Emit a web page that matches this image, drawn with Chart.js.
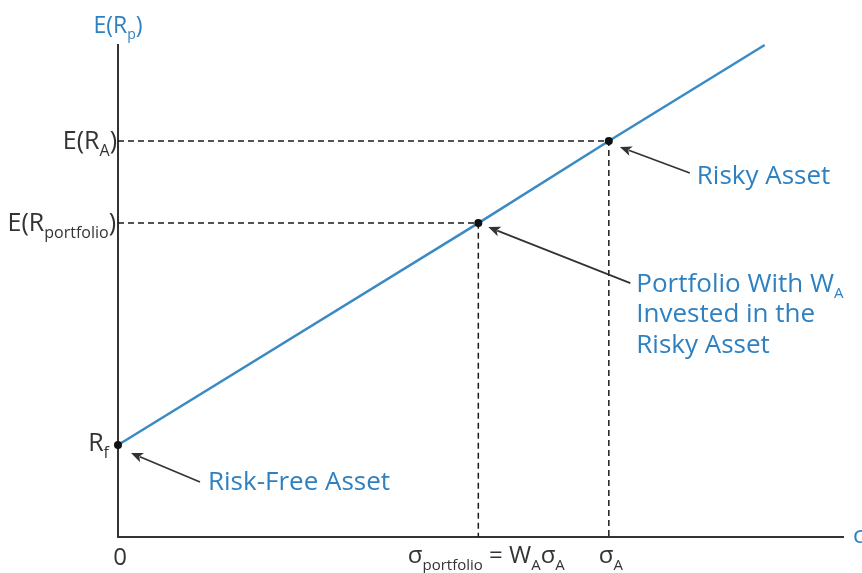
<!DOCTYPE html>
<html><head><meta charset="utf-8">
<script src="https://cdn.jsdelivr.net/npm/chart.js@4"></script>
<style>html,body{margin:0;padding:0;background:#fff}#wrap{width:862px;height:573px;position:relative}</style>
</head><body><div id="wrap"><canvas id="c" width="862" height="573"></canvas></div>
<script>
// ---- data ----
const riskFree = [0, 1.87];        // (sigma, E(R)) of the risk-free asset
const portfolio = [4.97, 6.38];    // portfolio with W_A in the risky asset
const risky = [6.77, 8.05];        // risky asset A
const lineEnd = [8.92, 10];        // end of the capital allocation line
const xRange = [0, 10];
const yRange = [0, 10];
const annotationTexts = {
  risky: ['Risky Asset'],
  portfolio: ['Portfolio With W', 'Invested in the', 'Risky Asset'],
  riskFree: ['Risk-Free Asset']
};

const BLUE_LINE = '#3a8ac4';
const BLUE_TEXT = '#2f80c0';
const DARK = '#333333';
const FONT = '"Open Sans", sans-serif';

function pt(a){ return {x:a[0], y:a[1]}; }

function drawRich(ctx, parts, x, y, align, color, size, subSize, subDrop){
  ctx.save();
  ctx.fillStyle = color;
  ctx.textBaseline = 'alphabetic';
  ctx.textAlign = 'left';
  let total = 0;
  parts.forEach(p => {
    ctx.font = (p.sub ? subSize : size) + 'px ' + FONT;
    p.w = ctx.measureText(p.t).width;
    total += p.w;
  });
  let cx = align === 'right' ? x - total : (align === 'center' ? x - total/2 : x);
  const drop = subDrop !== undefined ? subDrop : Math.round(size*0.28);
  parts.forEach(p => {
    ctx.font = (p.sub ? subSize : size) + 'px ' + FONT;
    ctx.fillText(p.t, cx, y + (p.sub ? drop : 0));
    cx += p.w;
  });
  ctx.restore();
}

function arrow(ctx, x1, y1, x2, y2){
  const ang = Math.atan2(y2 - y1, x2 - x1);
  const hl = 12, hw = 5;
  ctx.save();
  ctx.strokeStyle = DARK; ctx.fillStyle = DARK; ctx.lineWidth = 1.7;
  ctx.beginPath();
  ctx.moveTo(x1, y1);
  ctx.lineTo(x2 - Math.cos(ang)*hl*0.8, y2 - Math.sin(ang)*hl*0.8);
  ctx.stroke();
  ctx.beginPath();
  ctx.moveTo(x2, y2);
  ctx.lineTo(x2 - Math.cos(ang)*hl + Math.sin(ang)*hw, y2 - Math.sin(ang)*hl - Math.cos(ang)*hw);
  ctx.lineTo(x2 - Math.cos(ang)*hl*0.75, y2 - Math.sin(ang)*hl*0.75);
  ctx.lineTo(x2 - Math.cos(ang)*hl - Math.sin(ang)*hw, y2 - Math.sin(ang)*hl + Math.cos(ang)*hw);
  ctx.closePath();
  ctx.fill();
  ctx.restore();
}

const labelsPlugin = {
  id: 'labels',
  afterDraw(chart){
    const ctx = chart.ctx;
    const xs = chart.scales.x, ys = chart.scales.y;
    const X = v => xs.getPixelForValue(v), Y = v => ys.getPixelForValue(v);
    const axL = X(xRange[0]), axB = Y(yRange[0]), axT = Y(yRange[1]), axR = chart.chartArea.right;
    const ySize = 24, ySub = 15;
    const lSize = 25, lSub = 16;
    // y-axis title
    drawRich(ctx, [{t:'E(R'},{t:'p',sub:true},{t:')'}], axL, axT - 12, 'center', BLUE_TEXT, 23, 14);
    // y labels
    drawRich(ctx, [{t:'E(R'},{t:'A',sub:true},{t:')'}], axL - 1, Y(risky[1]) + 8, 'right', DARK, lSize, lSub);
    drawRich(ctx, [{t:'E(R'},{t:'portfolio',sub:true},{t:')'}], axL - 2, Y(portfolio[1]) + 8, 'right', DARK, lSize, lSub);
    drawRich(ctx, [{t:'R'},{t:'f',sub:true}], axL - 9, Y(riskFree[1]) + 6, 'right', DARK, lSize, lSub);
    // x labels
    drawRich(ctx, [{t:'0'}], axL + 2, axB + 28, 'center', DARK, ySize, ySub);
    drawRich(ctx, [{t:'σ'},{t:'portfolio',sub:true},{t:' = W'},{t:'A',sub:true},{t:'σ'},{t:'A',sub:true}], X(portfolio[0]) + 8, axB + 26, 'center', DARK, ySize, ySub);
    drawRich(ctx, [{t:'σ'},{t:'A',sub:true}], X(risky[0]) + 2, axB + 26, 'center', DARK, ySize, ySub);
    drawRich(ctx, [{t:'σ'}], axR + 10, axB + 6, 'left', BLUE_TEXT, ySize, ySub);
    // arrows
    const rx = X(risky[0]), ry = Y(risky[1]);
    arrow(ctx, rx + 81, ry + 32, rx + 11, ry + 6);
    const px = X(portfolio[0]), py = Y(portfolio[1]);
    arrow(ctx, px + 152, py + 60, px + 10, py + 4);
    const fx = X(riskFree[0]), fy = Y(riskFree[1]);
    arrow(ctx, fx + 82, fy + 37, fx + 13, fy + 8);
    // annotation texts
    const aSize = 26, aSub = 15;
    drawRich(ctx, [{t:annotationTexts.risky[0]}], rx + 88, ry + 43, 'left', BLUE_TEXT, aSize, aSub);
    drawRich(ctx, [{t:annotationTexts.portfolio[0]},{t:'A',sub:true}], px + 158, py + 69, 'left', BLUE_TEXT, aSize, aSub, 6);
    drawRich(ctx, [{t:annotationTexts.portfolio[1]}], px + 158, py + 99, 'left', BLUE_TEXT, aSize, aSub);
    drawRich(ctx, [{t:annotationTexts.portfolio[2]}], px + 158, py + 130, 'left', BLUE_TEXT, aSize, aSub);
    drawRich(ctx, [{t:annotationTexts.riskFree[0]}], fx + 90, fy + 45, 'left', BLUE_TEXT, aSize, aSub);
  }
};

new Chart(document.getElementById('c'), {
  type: 'scatter',
  data: {
    datasets: [
      { // dashed guides: risky
        data: [pt([xRange[0], risky[1]]), pt(risky), pt([risky[0], yRange[0]])],
        showLine: true, borderColor: '#1a1a1a', borderWidth: 1.5, borderDash: [6,4],
        pointRadius: 0, clip: false, order: 3
      },
      { // dashed guides: portfolio
        data: [pt([xRange[0], portfolio[1]]), pt(portfolio), pt([portfolio[0], yRange[0]])],
        showLine: true, borderColor: '#1a1a1a', borderWidth: 1.5, borderDash: [6,4],
        pointRadius: 0, clip: false, order: 3
      },
      { // capital allocation line
        data: [pt(riskFree), pt(portfolio), pt(risky), pt(lineEnd)],
        showLine: true, borderColor: BLUE_LINE, borderWidth: 2.5,
        pointRadius: 0, clip: false, order: 2
      },
      { // points
        data: [pt(riskFree), pt(portfolio), pt(risky)],
        showLine: false, pointRadius: 4, pointBackgroundColor: '#111', pointBorderWidth: 0,
        clip: false, order: 1
      }
    ]
  },
  options: {
    responsive: false, animation: false, devicePixelRatio: 1,
    layout: { padding: { left: 118, right: 19, top: 45, bottom: 36 } },
    plugins: { legend: {display:false}, tooltip: {enabled:false} },
    scales: {
      x: { type:'linear', min: xRange[0], max: xRange[1],
           ticks:{display:false}, grid:{display:false, drawTicks:false},
           border:{display:true, color: DARK, width: 2} },
      y: { type:'linear', min: yRange[0], max: yRange[1],
           ticks:{display:false}, grid:{display:false, drawTicks:false},
           border:{display:true, color: DARK, width: 2} }
    }
  },
  plugins: [labelsPlugin]
});
</script>
</body></html>
